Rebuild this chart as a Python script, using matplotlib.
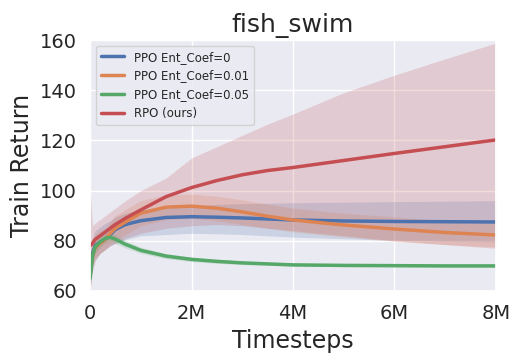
import matplotlib
matplotlib.use("Agg")
import matplotlib.pyplot as plt
import seaborn as sns
from matplotlib.ticker import FuncFormatter

# timesteps (millions)
steps_m = [0, 0.05, 0.1, 0.2, 0.3, 0.4, 0.5, 0.7, 1.0, 1.5, 2.0, 2.5, 3.0, 3.5, 4.0, 5.0, 6.0, 7.0, 8.0]

ppo0_mean = [66, 75, 78, 79.5, 80.5, 82.5, 84.5, 86.5, 88, 89.3, 89.6, 89.4, 89.1, 88.7, 88.3, 87.9, 87.7, 87.6, 87.5]
ppo0_lo = [60, 68, 72, 75, 76.5, 78, 79, 80.5, 82, 82.5, 83, 82.8, 82.5, 82, 81.5, 80.8, 80.2, 79.8, 79.5]
ppo0_hi = [74, 81, 84, 85.5, 87, 88, 89.5, 91, 92.5, 93.5, 94, 94.5, 94.8, 95, 95.2, 95.4, 95.6, 95.8, 96]

ppo001_mean = [66, 74, 77, 79, 80.5, 83, 85, 87.5, 91, 93.4, 93.8, 93, 91.5, 89.8, 88.3, 86.3, 84.7, 83.3, 82.3]
ppo001_lo = [60, 68, 72, 75, 76.5, 78.5, 80, 82.5, 86, 88.5, 89, 88, 86.5, 85, 83.5, 81.5, 79.8, 78.5, 77.5]
ppo001_hi = [74, 80, 82.5, 84, 85, 87.5, 90, 92.5, 96, 98.3, 98.6, 97.8, 96.3, 94.6, 93, 91, 89.5, 88, 87]

ppo005_mean = [65, 74, 77.5, 79.5, 81, 81.4, 80.6, 78.6, 76.2, 73.9, 72.6, 71.8, 71.2, 70.8, 70.4, 70.2, 70.1, 70.0, 70.0]
ppo005_lo = [61, 71, 75, 77.5, 79, 79.6, 78.9, 77.1, 75, 72.9, 71.7, 71, 70.5, 70.2, 69.9, 69.7, 69.6, 69.5, 69.5]
ppo005_hi = [69, 77, 80, 81.5, 83, 83.2, 82.3, 80.1, 77.4, 74.9, 73.5, 72.6, 71.9, 71.4, 70.9, 70.7, 70.6, 70.5, 70.5]

rpo_mean = [78, 79, 80.5, 82, 83.5, 85, 86.5, 89, 92.3, 97.6, 101.2, 104, 106.3, 108, 109.2, 112, 114.8, 117.5, 120.2]
rpo_lo = [60, 70, 73, 75, 76.5, 78, 79, 81, 83, 85, 86, 86.5, 86, 85, 84, 82, 80, 78.5, 77]
rpo_hi = [101, 86, 87, 88.5, 90, 91.5, 93, 96, 100, 105, 113, 117.5, 122, 126.5, 130.5, 139, 146, 152.5, 158.8]

labels = ["PPO Ent_Coef=0", "PPO Ent_Coef=0.01", "PPO Ent_Coef=0.05", "RPO (ours)"]

sns.set_theme(style="darkgrid")
pal = sns.color_palette("deep")
colors = [pal[0], pal[1], pal[2], pal[3]]

fig = plt.figure(figsize=(5.25, 3.6), dpi=100)
ax = fig.add_axes([90 / 525, 69 / 360, 406 / 525, 251 / 360])

x = [s * 1e6 for s in steps_m]
series = [(ppo0_mean, ppo0_lo, ppo0_hi), (ppo001_mean, ppo001_lo, ppo001_hi),
          (ppo005_mean, ppo005_lo, ppo005_hi), (rpo_mean, rpo_lo, rpo_hi)]
for (m, lo, hi), c, lab in zip(series, colors, labels):
    ax.fill_between(x, lo, hi, color=c, alpha=0.2, linewidth=0)
    ax.plot(x, m, color=c, lw=2.5, label=lab)

ax.set_xlim(0, 8e6)
ax.set_ylim(60, 160)
ax.set_xticks([0, 2e6, 4e6, 6e6, 8e6])
ax.xaxis.set_major_formatter(FuncFormatter(lambda v, p: "0" if v == 0 else f"{v / 1e6:.0f}M"))
ax.tick_params(labelsize=14)
ax.set_xlabel("Timesteps", fontsize=17)
ax.set_ylabel("Train Return", fontsize=17)
ax.set_title("fish_swim", fontsize=18)
ax.legend(loc="upper left", fontsize=8.5)

fig.savefig("out.png", dpi=100)
